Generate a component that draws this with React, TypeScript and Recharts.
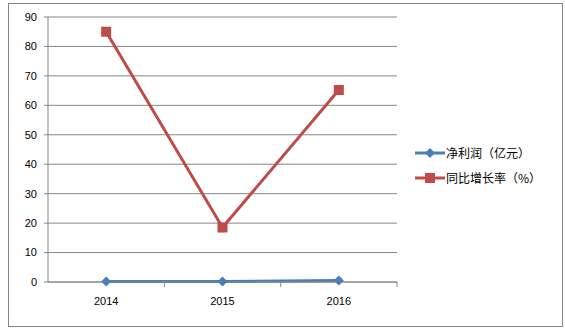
import { CartesianGrid, Line, LineChart, XAxis, YAxis } from "recharts";

const years = ["2014", "2015", "2016"];
const netProfit = [0.2, 0.2, 0.5];
const growthRate = [85, 18.5, 65.2];
const yTicks = [0, 10, 20, 30, 40, 50, 60, 70, 80, 90];

const data = years.map((year, i) => ({
  year,
  profit: netProfit[i],
  growth: growthRate[i],
}));

const BLUE = "#4a7ebb";
const RED = "#be4b48";
const GRID = "#868686";
const FONT = "'Liberation Sans', Arial, sans-serif";
const CJK = "'Noto Sans CJK SC', sans-serif";

function Diamond(props: any) {
  const { cx, cy } = props;
  if (cx == null || cy == null) return null;
  const r = 5;
  return (
    <path
      d={`M${cx},${cy - r}L${cx + r},${cy}L${cx},${cy + r}L${cx - r},${cy}Z`}
      fill={BLUE}
    />
  );
}

function Square(props: any) {
  const { cx, cy } = props;
  if (cx == null || cy == null) return null;
  return <rect x={cx - 5} y={cy - 5} width={10} height={10} fill={RED} />;
}

function YearTick(props: any) {
  const { x, y, payload } = props;
  const half = 349 / 6;
  return (
    <g>
      <line x1={x + half} y1={y} x2={x + half} y2={y + 5} stroke={GRID} />
      <text
        x={x}
        y={y + 23}
        textAnchor="middle"
        fontSize={11}
        fontFamily={FONT}
        fill="#000"
      >
        {payload.value}
      </text>
    </g>
  );
}

function LegendBox() {
  const items = [
    { label: "净利润（亿元）", color: BLUE, shape: "diamond" },
    { label: "同比增长率（%）", color: RED, shape: "square" },
  ];
  return (
    <div style={{ position: "absolute", left: 406, top: 136, width: 140 }}>
      {items.map((it) => (
        <div
          key={it.label}
          style={{ display: "flex", alignItems: "center", height: 25 }}
        >
          <svg width={30} height={12} style={{ marginRight: 1 }}>
            <line x1={0} y1={6} x2={30} y2={6} stroke={it.color} strokeWidth={3} />
            {it.shape === "diamond" ? (
              <path d="M15,1L20,6L15,11L10,6Z" fill={it.color} />
            ) : (
              <rect x={10} y={1} width={10} height={10} fill={it.color} />
            )}
          </svg>
          <span style={{ fontSize: 12, fontFamily: CJK, color: "#000" }}>
            {it.label}
          </span>
        </div>
      ))}
    </div>
  );
}

export default function App() {
  return (
    <div
      style={{
        position: "absolute",
        left: 8,
        top: 3,
        width: 553,
        height: 322,
        border: `1px solid ${GRID}`,
        background: "#fff",
      }}
    >
      <LineChart
        width={553}
        height={322}
        data={data}
        margin={{ top: 13, right: 165, bottom: 0, left: 0 }}
      >
        <CartesianGrid vertical={false} stroke={GRID} />
        <XAxis
          dataKey="year"
          scale="band"
          axisLine={{ stroke: GRID }}
          tickLine={false}
          tickSize={0}
          tickMargin={0}
          height={44}
          tick={<YearTick />}
          interval={0}
        />
        <YAxis
          domain={[0, 90]}
          ticks={yTicks}
          interval={0}
          width={39}
          axisLine={{ stroke: GRID }}
          tickLine={{ stroke: GRID }}
          tickSize={4}
          tickMargin={7}
          tick={{ fontSize: 11, fontFamily: FONT, fill: "#000" }}
        />
        <Line
          dataKey="profit"
          stroke={BLUE}
          strokeWidth={3}
          dot={<Diamond />}
          activeDot={false}
          isAnimationActive={false}
        />
        <Line
          dataKey="growth"
          stroke={RED}
          strokeWidth={3}
          dot={<Square />}
          activeDot={false}
          isAnimationActive={false}
        />
      </LineChart>
      <LegendBox />
    </div>
  );
}
